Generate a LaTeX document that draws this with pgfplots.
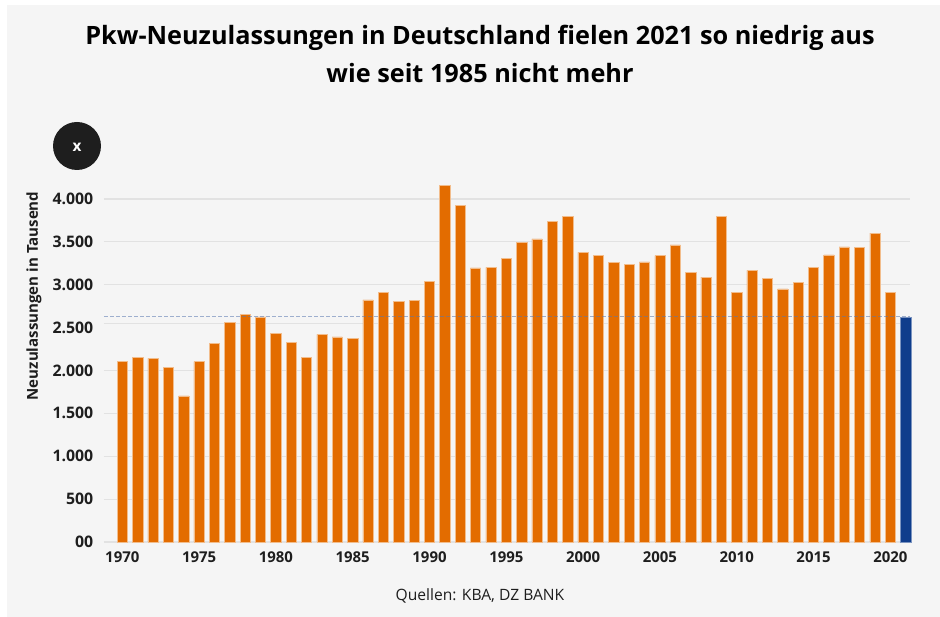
\documentclass[border=0pt]{standalone}
\usepackage{pgfplots}
\pgfplotsset{compat=1.18}
\usepackage{fontspec}
\setmainfont{Open Sans}
\definecolor{bgp}{HTML}{F5F5F5}
\definecolor{grd}{HTML}{E2E2E2}
\definecolor{org}{HTML}{E36C00}
\definecolor{nvy}{HTML}{0F3D8C}
\definecolor{txt}{HTML}{1E1E1E}
\begin{document}
\begin{tikzpicture}[x=0.75pt,y=0.75pt]
\useasboundingbox (0,0) rectangle (940,617);
\fill[bgp] (7,0) rectangle (940,612);
\fill[txt] (77,471) circle (24);
\node[text=white,font=\fontsize{11.5pt}{12pt}\selectfont\bfseries] at (77,469.5) {x};
\node[align=center,text=black,font=\fontsize{18.95pt}{28.5pt}\selectfont\bfseries] at (480,563.5)
  {Pkw-Neuzulassungen in Deutschland fielen 2021 so niedrig aus\\wie seit 1985 nicht mehr};
\node[text=txt,font=\fontsize{11.7pt}{12pt}\selectfont] at (480,21) {Quellen: KBA, DZ BANK};
\begin{axis}[
  at={(78pt,56.25pt)},anchor=south west,
  scale only axis,width=604.5pt,height=276.6pt,
  xmin=1968.81,xmax=2021.28,ymin=0,ymax=4300,clip=false,
  axis x line*=bottom,axis y line*=left,
  x axis line style={draw=none},y axis line style={draw=none},
  ytick={0,500,1000,1500,2000,3000,3500,4000},
  yticklabels={00,500,{1.000},{1.500},{2.000},{3.000},{3.500},{4.000}},
  extra y ticks={2500},
  extra y tick labels={{2.500}},
  extra tick style={ymajorgrids=false},
  xtick={1970,1975,...,2020},
  /pgf/number format/1000 sep={},
  /pgf/number format/assume math mode=true,
  xticklabel style={text=txt,font=\fontsize{11.2pt}{12pt}\selectfont\bfseries,yshift=-3.5pt},
  yticklabel style={text=txt,font=\fontsize{11.9pt}{12pt}\selectfont\bfseries,xshift=-4.5pt},
  major tick length=0pt,
  tick style={draw=none},
  ymajorgrids,grid style={draw=grd,line width=0.9pt},
  ylabel={Neuzulassungen in Tausend},
  ylabel style={text=txt,font=\fontsize{11.3pt}{12pt}\selectfont\bfseries,at={(axis description cs:-0.0868,0.667)},anchor=center},
  ybar,bar width=7.7pt,
]
\addplot[sharp plot,draw=grd,line width=0.9pt,forget plot] coordinates {(1968.81,2550)(2021.28,2550)};
\addplot[fill=org,draw=org!45!white,line width=0.4pt,bar shift=0pt] coordinates {
(1970,2107)(1971,2150)(1972,2142)(1973,2033)(1974,1703)(1975,2103)(1976,2313)(1977,2562)(1978,2655)(1979,2624)
(1980,2430)(1981,2325)(1982,2153)(1983,2422)(1984,2391)(1985,2375)(1986,2822)(1987,2908)(1988,2803)(1989,2820)
(1990,3036)(1991,4155)(1992,3926)(1993,3195)(1994,3203)(1995,3308)(1996,3491)(1997,3534)(1998,3736)(1999,3794)
(2000,3378)(2001,3339)(2002,3258)(2003,3234)(2004,3265)(2005,3339)(2006,3464)(2007,3141)(2008,3087)(2009,3798)
(2010,2912)(2011,3168)(2012,3075)(2013,2950)(2014,3028)(2015,3203)(2016,3347)(2017,3440)(2018,3432)(2019,3600)
(2020,2912)};
\addplot[fill=nvy,draw=nvy!55!white,line width=0.4pt,bar shift=0pt] coordinates {(2021,2625)};
\addplot[sharp plot,draw=nvy!70,opacity=0.55,line width=0.6pt,dash pattern=on 3pt off 1.5pt] coordinates {(1968.81,2625)(2021.28,2625)};
\end{axis}
\end{tikzpicture}
\end{document}
